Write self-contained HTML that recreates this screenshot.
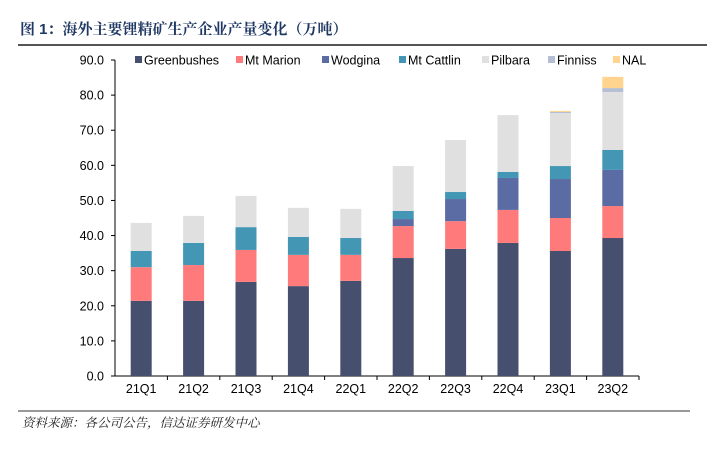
<!DOCTYPE html>
<html><head><meta charset="utf-8"><style>
body{margin:0;background:#fff;width:707px;height:445px;overflow:hidden;font-family:"Liberation Sans","Noto Sans CJK SC",sans-serif;}
</style></head><body>
<svg width="707" height="445" xmlns="http://www.w3.org/2000/svg">
<text x="20" y="34" font-size="15" font-weight="bold" fill="#1f3864" font-family="Liberation Sans,Noto Serif CJK SC,serif">图 1：海外主要锂精矿生产企业产量变化（万吨）</text>
<line x1="18" y1="45" x2="707" y2="45" stroke="#555" stroke-width="2"/>
<g id="legend"></g>
<g id="axes"></g>
<g id="bars"></g>
<line x1="18" y1="411" x2="690" y2="411" stroke="#333" stroke-width="1"/>
<text x="22" y="427" font-size="12.5" font-style="italic" fill="#222" font-family="Liberation Sans,Noto Serif CJK SC,serif">资料来源：各公司公告，信达证券研发中心</text>
</svg>
<script>
const categories=["21Q1","21Q2","21Q3","21Q4","22Q1","22Q2","22Q3","22Q4","23Q1","23Q2"];
const seriesNames=["Greenbushes","Mt Marion","Wodgina","Mt Cattlin","Pilbara","Finniss","NAL"];
const greenbushes=[21.4,21.4,26.8,25.6,27.1,33.6,36.2,37.9,35.6,39.3];
const mtMarion=[9.6,10.2,9.1,8.9,7.4,9.1,7.9,9.4,9.4,9.1];
const wodgina=[0,0,0,0,0,2.0,6.3,9.1,11.1,10.3];
const mtCattlin=[4.6,6.3,6.5,5.1,4.8,2.3,2.0,1.7,3.7,5.7];
const pilbara=[8.0,7.7,8.9,8.3,8.3,12.8,14.8,16.2,15.1,16.5];
const finniss=[0,0,0,0,0,0,0,0,0.3,1.1];
const nal=[0,0,0,0,0,0,0,0,0.3,3.2];
const yTicks=[0,10,20,30,40,50,60,70,80,90];
const colors=["#464f6e","#ff7b7b","#5b6ba3","#4397b5","#e0e0e0","#b4bed4","#ffd48f"];
const series=[greenbushes,mtMarion,wodgina,mtCattlin,pilbara,finniss,nal];
const NS="http://www.w3.org/2000/svg";
const x0=115,step=52.4,y0=376,yTop=60,ymax=90,bw=21;
const y=v=>y0-(v/ymax)*(y0-yTop);
const xc=i=>x0+step*(i+0.5);
function mk(t,a,p){const e=document.createElementNS(NS,t);for(const k in a)e.setAttribute(k,a[k]);p.appendChild(e);return e;}
const axes=document.getElementById('axes'),bars=document.getElementById('bars'),leg=document.getElementById('legend');
let l=mk('line',{x1:x0,y1:yTop,x2:x0,y2:y0,stroke:'#000'},axes);


l=mk('line',{x1:x0,y1:y0,x2:x0+step*categories.length,y2:y0,stroke:'#000'},axes);


yTicks.forEach(v=>{
  mk('line',{x1:x0-4,x2:x0,y1:y(v),y2:y(v),stroke:'#000'},axes);
  const t=mk('text',{x:104,y:y(v)+4.5,'font-size':12.5,'text-anchor':'end',fill:'#000'},axes);
  t.textContent=v.toFixed(1);
  
  
});
categories.forEach((c,i)=>{
  mk('line',{x1:x0+step*(i+1),x2:x0+step*(i+1),y1:y0,y2:y0+4,stroke:'#000'},axes);
  const t=mk('text',{x:xc(i),y:y0+17,'font-size':12.5,'text-anchor':'middle',fill:'#000'},axes);
  t.textContent=c;
  
  
  let cum=0;
  series.forEach((s,k)=>{
    const v=s[i];if(!v)return;
    const r=mk('rect',{x:xc(i)-bw/2,y:y(cum+v),width:bw,height:y(cum)-y(cum+v),fill:colors[k]},bars);
    
    
    cum+=v;
  });
});
const lx=[135,236,322,399,482,548,613];
seriesNames.forEach((n,k)=>{
  const g=mk('g',{},leg);
  
  
  mk('rect',{x:lx[k],y:56,width:7,height:7,fill:colors[k]},g);
  const t=mk('text',{x:lx[k]+9,y:64.5,'font-size':12.5,fill:'#000'},g);
  t.textContent=n;
});
</script>
</body></html>
